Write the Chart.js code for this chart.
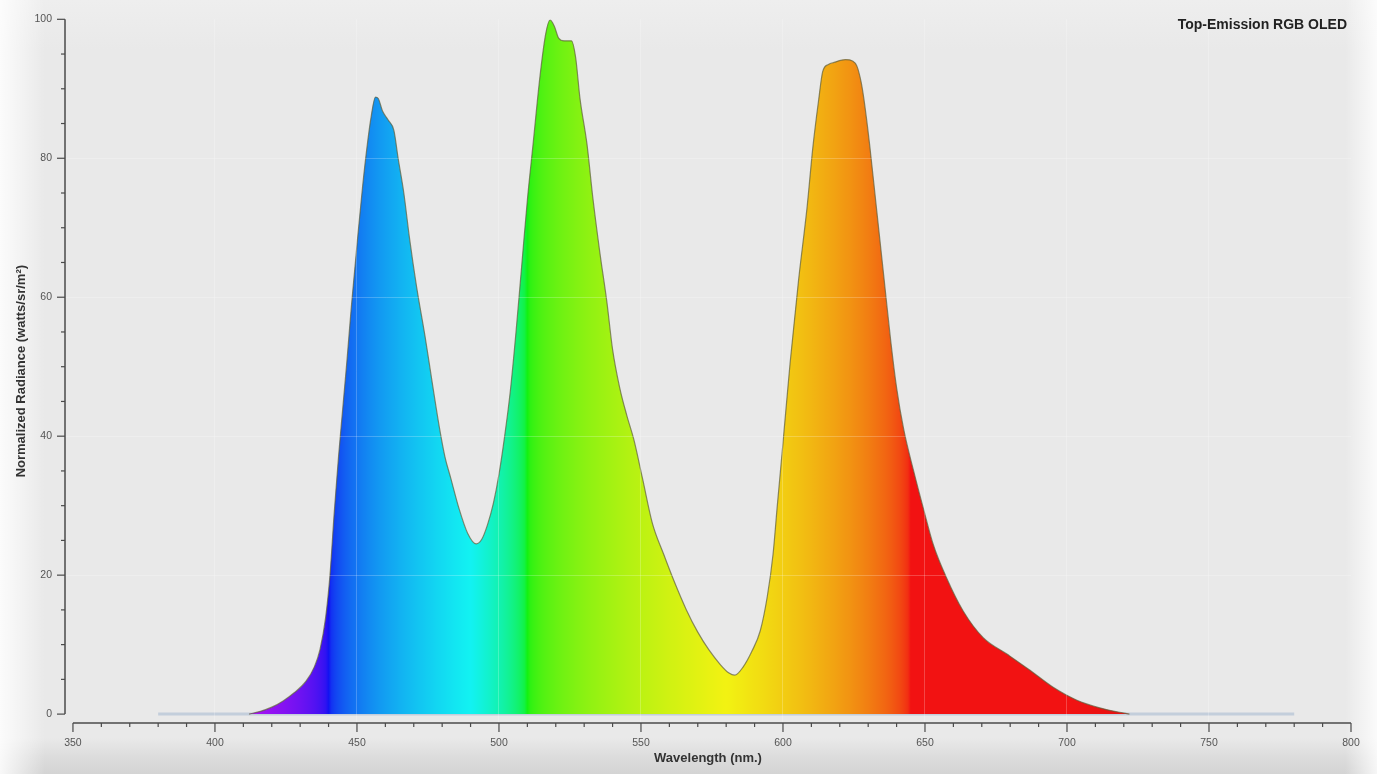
<!DOCTYPE html>
<html lang="en">
<head>
  <meta charset="UTF-8" />
  <title>Top-Emission RGB OLED</title>
  <style>
    body {
      margin: 0;
      padding: 0;
      overflow: hidden;
      font-family: "Liberation Sans", Arial, sans-serif;
      background:
        linear-gradient(to right, rgba(255,255,255,0.85) 0px, rgba(255,255,255,0) 45px, rgba(255,255,255,0) 1345px, rgba(255,255,255,0.8) 1377px),
        linear-gradient(to bottom, #eeeeee 0px, #e9e9e9 50px, #e9e9e9 738px, #dddddd 756px, #d4d4d4 774px);
    }
    .wrap {
      position: relative;
      width: 1377px;
      height: 774px;
    }
    .title {
      position: absolute;
      top: 16px;
      right: 30px;
      font-size: 14px;
      font-weight: bold;
      color: #222;
    }
  </style>
  <script src="https://cdn.jsdelivr.net/npm/chart.js"></script>
</head>
<body>
  <div class="wrap">
    <canvas id="spectrum"></canvas>
    <div class="title">Top-Emission RGB OLED</div>
  </div>
  <script>
    // spectrum (nm, normalized radiance)
    const wavelengths = [
      412, 416, 420, 424, 428, 432, 435, 437, 439, 440.5,
      442, 443.5, 445, 446.5, 448, 450, 452, 453.5, 455, 456.5,
      457.5, 459, 461, 463, 464.5, 466.5, 468.5, 471, 474, 476.5,
      479, 481, 483, 486, 489, 492, 494, 496, 498, 500,
      502, 504, 506, 508, 510, 512, 514.5, 516.5, 518, 519.5,
      521, 523, 525.5, 527, 528.5, 531, 533, 535.5, 538, 540,
      542.5, 545, 547.5, 550.5, 554, 558, 561.5, 566, 570, 574,
      578, 581, 583, 586, 589, 592, 594.5, 596.5, 598, 600,
      602.5, 605.5, 608.5, 610.5, 612.5, 614, 616, 618, 622, 624.5,
      626, 627.5, 628.5, 630.5, 633, 635.5, 638, 640, 642.5, 646,
      649.5, 653, 657.5, 663.5, 670.5, 679, 687, 695, 703.5, 711.5,
      718, 722
    ];
    const radiance = [
      0, 0.4, 1.0, 1.9, 3.1, 4.7, 6.8, 9.3, 14, 20,
      29, 37, 44, 51, 58.5, 67.5, 76, 81.5, 86, 88.8,
      88.6, 86.8, 85.5, 84, 80, 75, 68.5, 61.5, 54.3, 47.7,
      41.3, 37, 34, 29.5, 26, 24.5, 25.2, 27.3, 30.3, 34.5,
      40, 46.5, 55, 64.5, 74, 82, 92, 98, 99.9, 99,
      97.3, 96.9, 96.9, 94.5, 88.7, 82, 74.5, 66.5, 59.3, 52.5,
      47, 43, 39.5, 34, 27.5, 23, 19.3, 15, 11.8, 9.2,
      7.1, 5.9, 5.6, 6.8, 9, 12, 17, 23, 30, 39,
      50.5, 62.5, 73, 81.5, 88.2, 92.5, 93.5, 93.8, 94.2, 94,
      93.3, 91, 88.5, 82, 72.5, 63, 53.5, 47, 41, 35,
      29.5, 24.3, 19.7, 14.8, 11, 8.6, 6.3, 3.9, 2, 0.9,
      0.3, 0
    ];
    // flat baseline of the measured range
    const baselineRange = [380, 780];
    const xTicks = [350, 400, 450, 500, 550, 600, 650, 700, 750, 800];
    const yTicks = [0, 20, 40, 60, 80, 100];

    // wavelength -> colour (piecewise, like the usual spectrum palette)
    function waveColor(w) {
      let r = 0, g = 0, b = 0;
      if (w < 440) { r = (440 - w) / 60; b = 1; }
      else if (w < 490) { g = (w - 440) / 50; b = 1; }
      else if (w < 510) { g = 1; b = (510 - w) / 20; }
      else if (w < 580) { r = (w - 510) / 70; g = 1; }
      else if (w < 645) { r = 1; g = (645 - w) / 65; }
      else { r = 1; }
      const c = v => 255 * Math.pow(Math.max(0, Math.min(1, v)), 0.5);
      let k = 1;
      if (w > 700) k = 1 - 0.2 * (w - 700) / 80;
      if (w < 410) k = 0.8 + 0.2 * (w - 380) / 30;
      // slightly washed out, like the source picture
      const f = v => Math.round((c(v) * 0.88 + 18) * k);
      return `rgb(${f(r)}, ${f(g)}, ${f(b)})`;
    }

    let gradCache = null, gradKey = '';
    function spectrumFill(context) {
      const chart = context.chart;
      if (!chart.chartArea) return 'rgba(0,0,0,0)';
      const xs = chart.scales.x;
      const x0 = xs.getPixelForValue(baselineRange[0]);
      const x1 = xs.getPixelForValue(baselineRange[1]);
      const key = x0 + ':' + x1;
      if (gradKey !== key) {
        const g = chart.ctx.createLinearGradient(x0, 0, x1, 0);
        const span = baselineRange[1] - baselineRange[0];
        for (let w = baselineRange[0]; w <= baselineRange[1]; w++) {
          g.addColorStop((w - baselineRange[0]) / span, waveColor(w));
        }
        gradCache = g;
        gradKey = key;
      }
      return gradCache;
    }

    // axis lines with major / minor ticks, drawn from the scales
    const axisPlugin = {
      id: 'axisLines',
      afterDraw(chart) {
        const ctx = chart.ctx;
        const xs = chart.scales.x, ys = chart.scales.y;
        const area = chart.chartArea;
        ctx.save();
        ctx.strokeStyle = '#4a4a4a';
        ctx.lineWidth = 1.5;
        // y axis
        const ax = area.left;
        ctx.beginPath();
        ctx.moveTo(ax, ys.getPixelForValue(yTicks[yTicks.length - 1]));
        ctx.lineTo(ax, ys.getPixelForValue(yTicks[0]));
        ctx.stroke();
        ctx.lineWidth = 1.2;
        for (let v = yTicks[0]; v <= yTicks[yTicks.length - 1]; v += 5) {
          const py = ys.getPixelForValue(v);
          const len = yTicks.includes(v) ? 8 : 4;
          ctx.beginPath();
          ctx.moveTo(ax, py);
          ctx.lineTo(ax - len, py);
          ctx.stroke();
        }
        // x axis
        const ay = area.bottom;
        ctx.lineWidth = 1.5;
        ctx.beginPath();
        ctx.moveTo(xs.getPixelForValue(xTicks[0]), ay);
        ctx.lineTo(xs.getPixelForValue(xTicks[xTicks.length - 1]), ay);
        ctx.stroke();
        ctx.lineWidth = 1.2;
        for (let w = xTicks[0]; w <= xTicks[xTicks.length - 1]; w += 10) {
          const px = xs.getPixelForValue(w);
          const len = xTicks.includes(w) ? 9 : 4;
          ctx.beginPath();
          ctx.moveTo(px, ay);
          ctx.lineTo(px, ay + len);
          ctx.stroke();
        }
        ctx.restore();
      }
    };

    const faintGrid = (ctx) => {
      const v = ctx.tick ? ctx.tick.value : null;
      if (v === 0 || v === 100 || v === 350 || v === 800) return 'rgba(0,0,0,0)';
      return 'rgba(255,255,255,0.22)';
    };

    const tickFont = { family: '"Liberation Sans", Arial, sans-serif', size: 10.5 };
    const titleFont = { family: '"Liberation Sans", Arial, sans-serif', size: 13, weight: 'bold' };

    new Chart(document.getElementById('spectrum'), {
      type: 'line',
      data: {
        datasets: [
          {
            label: 'Top-Emission RGB OLED',
            data: wavelengths.map((w, i) => ({ x: w, y: radiance[i] })),
            fill: 'origin',
            backgroundColor: spectrumFill,
            borderColor: 'rgba(95, 95, 60, 0.7)',
            borderWidth: 1.2,
            pointRadius: 0,
            cubicInterpolationMode: 'monotone',
            order: 1
          },
          {
            label: 'baseline',
            data: baselineRange.map(w => ({ x: w, y: 0 })),
            borderColor: '#c3cedb',
            borderWidth: 3,
            pointRadius: 0,
            fill: false,
            order: 2
          }
        ]
      },
      options: {
        responsive: true,
        maintainAspectRatio: false,
        animation: false,
        layout: { padding: { top: 13, right: 26, left: 0, bottom: 0 } },
        plugins: {
          legend: { display: false },
          tooltip: { enabled: false }
        },
        scales: {
          x: {
            type: 'linear',
            min: 347.2,
            max: 800,
            afterBuildTicks: s => { s.ticks = xTicks.map(v => ({ value: v })); },
            afterFit: s => { s.height = 51; },
            border: { display: false },
            grid: { drawTicks: false, color: faintGrid, z: 1 },
            ticks: { font: tickFont, color: '#555', padding: 14, maxRotation: 0 },
            title: { display: true, text: 'Wavelength (nm.)', font: titleFont, color: '#333', padding: { top: 0, bottom: 8 } }
          },
          y: {
            min: -1.28,
            max: 100,
            afterBuildTicks: s => { s.ticks = yTicks.map(v => ({ value: v })); },
            afterFit: s => { s.width = 65; },
            border: { display: false },
            grid: { drawTicks: false, color: faintGrid, z: 1 },
            ticks: { font: tickFont, color: '#555', padding: 13 },
            title: { display: true, text: 'Normalized Radiance (watts/sr/m²)', font: titleFont, color: '#333', padding: { top: 14, bottom: 0 } }
          }
        }
      },
      plugins: [axisPlugin]
    });
  </script>
</body>
</html>
